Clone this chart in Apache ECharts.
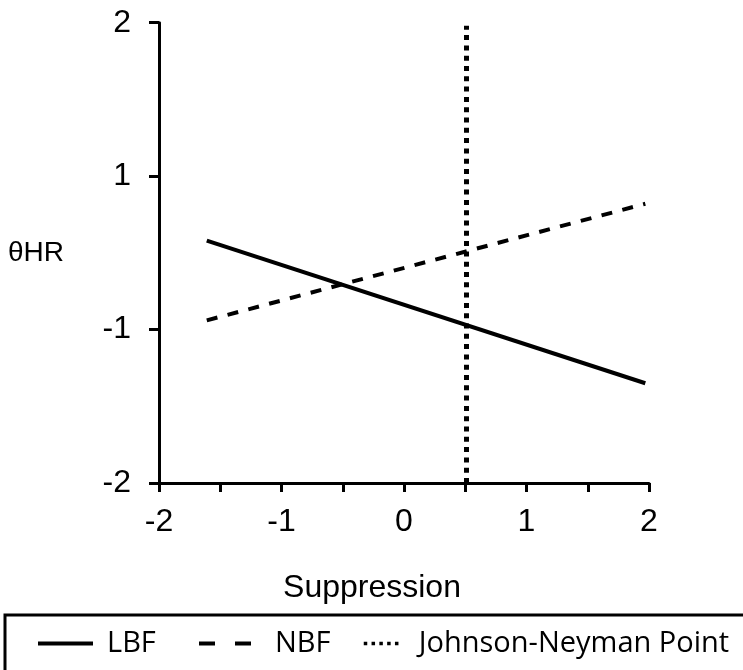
<!DOCTYPE html>
<html>
<head>
<meta charset="utf-8">
<script src="https://cdn.jsdelivr.net/npm/echarts@6/dist/echarts.min.js"></script>
<style>
  html, body { margin: 0; padding: 0; background: #fff; }
  #chart { width: 743px; height: 670px; }
</style>
</head>
<body>
<div id="chart"></div>
<script>
// Simple slopes of θHR on Suppression for the two groups, plus the
// Johnson-Neyman boundary. The θHR axis has four evenly spaced ticks
// (positions 0..3) labelled below; y values are given on those positions.
const yTickLabels = ['-2', '-1', '1', '2'];

const lbfPoints = [[-1.61, 1.58], [1.97, 0.65]];
const nbfPoints = [[-1.61, 1.06], [1.97, 1.82]];
const jnPoints  = [[0.51, 0], [0.51, 2.98]];

const seriesNames = ['LBF', 'NBF', 'Johnson-Neyman Point'];

const axisFont = '"Liberation Sans", Arial, sans-serif';
const legendFont = '"Open Sans", sans-serif';

const chart = echarts.init(document.getElementById('chart'), null, { renderer: 'canvas' });

// One legend per entry so each key sits where it belongs inside the box.
function legendAt(name, left, iconWidth, textGap, lineStyle) {
  return {
    data: [name],
    left: left,
    top: 629,
    itemWidth: iconWidth,
    itemHeight: 28,
    padding: 0,
    selectedMode: false,
    itemStyle: { color: 'rgba(0,0,0,0)', borderWidth: 0 },
    lineStyle: Object.assign({ color: '#000', cap: 'butt' }, lineStyle),
    textStyle: {
      fontFamily: legendFont,
      fontSize: 29,
      color: '#000',
      padding: [0, 0, 0, textGap]
    }
  };
}

chart.setOption({
  animation: false,
  backgroundColor: '#fff',
  grid: { left: 159, right: 94, top: 22.7, bottom: 187, containLabel: false },
  xAxis: {
    type: 'value',
    min: -2,
    max: 2,
    interval: 0.5,
    name: 'Suppression',
    nameLocation: 'middle',
    nameGap: 89,
    nameTextStyle: {
      fontFamily: axisFont, fontSize: 32, color: '#000',
      padding: [0, 64, 0, 0]
    },
    axisLine: { onZero: false, lineStyle: { color: '#000', width: 3 } },
    axisTick: { show: true, length: 9, lineStyle: { color: '#000', width: 3 } },
    axisLabel: {
      margin: 23,
      fontFamily: axisFont,
      fontSize: 32,
      color: '#000',
      formatter: v => (Number.isInteger(v) ? String(v) : '')
    },
    splitLine: { show: false }
  },
  yAxis: {
    type: 'value',
    min: 0,
    max: 3,
    interval: 1,
    name: 'θHR',
    nameLocation: 'middle',
    nameRotate: 0,
    nameGap: 95,
    nameTextStyle: { fontFamily: axisFont, fontSize: 28, color: '#000' },
    axisLine: { show: true, onZero: false, lineStyle: { color: '#000', width: 3 } },
    axisTick: { show: true, length: 10, lineStyle: { color: '#000', width: 3 } },
    axisLabel: {
      margin: 28,
      fontFamily: axisFont,
      fontSize: 32,
      color: '#000',
      formatter: v => yTickLabels[Math.round(v)]
    },
    splitLine: { show: false }
  },
  legend: [
    legendAt(seriesNames[0], 36, 55, 9, { width: 4, type: 'solid' }),
    legendAt(seriesNames[1], 197, 53, 18, { width: 4, type: [16, 20] }),
    legendAt(seriesNames[2], 362, 35, 15, { width: 3.5, type: [3.5, 4.3] })
  ],
  graphic: [{
    type: 'rect',
    z: -1,
    shape: { x: 5, y: 615, width: 800, height: 120 },
    style: { fill: 'none', stroke: '#000', lineWidth: 3 }
  }],
  series: [
    {
      name: seriesNames[0],
      type: 'line',
      data: lbfPoints,
      symbol: 'none',
      lineStyle: { color: '#000', width: 4, type: 'solid' },
      itemStyle: { color: '#000' }
    },
    {
      name: seriesNames[1],
      type: 'line',
      data: nbfPoints,
      symbol: 'none',
      lineStyle: { color: '#000', width: 4, type: [11, 10.5] },
      itemStyle: { color: '#000' }
    },
    {
      name: seriesNames[2],
      type: 'line',
      data: jnPoints,
      symbol: 'none',
      lineStyle: { color: '#000', width: 5, type: [5, 5.3] },
      itemStyle: { color: '#000' }
    }
  ]
});
</script>
</body>
</html>
